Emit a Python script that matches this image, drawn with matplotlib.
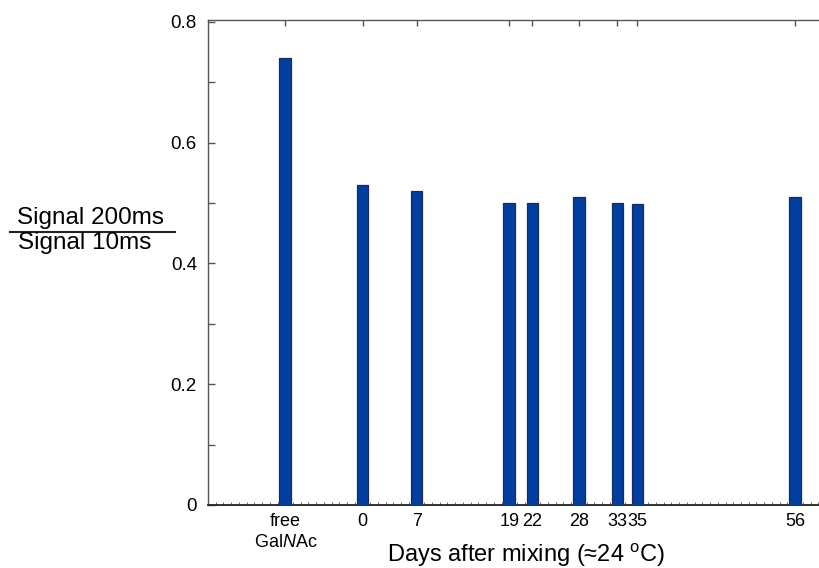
"""Signal ratio bar chart vs. days after mixing"""

import matplotlib

matplotlib.use("Agg")
import matplotlib.pyplot as plt
from matplotlib.lines import Line2D
from matplotlib.ticker import MultipleLocator

plt.rcParams["font.family"] = ["Liberation Sans", "DejaVu Sans"]
plt.rcParams["mathtext.fontset"] = "custom"
plt.rcParams["mathtext.rm"] = "Liberation Sans"
plt.rcParams["mathtext.it"] = "Liberation Sans:italic"

# data (x positions, in days; "free" sits at -10)
positions = [-10, 0, 7, 19, 22, 28, 33, 35.6, 56]
tick_labels = ["free\nGal$\\it{N}$Ac", "0", "7", "19", "22", "28", "33", "35", "56"]
ratios = [0.74, 0.53, 0.52, 0.50, 0.50, 0.51, 0.50, 0.498, 0.51]

bar_color = "#003f9f"
edge_color = "#1c2b55"

fig = plt.figure(figsize=(8.19, 5.68), dpi=100)
ax = fig.add_axes([0.254, 0.111, 0.746, 0.854])

ax.bar(positions, ratios, width=1.5, color=bar_color, edgecolor=edge_color,
       linewidth=0.9, zorder=3)

ax.set_xlim(-20, 59.1)
ax.set_ylim(0, 0.8033)

# spines
ax.spines["right"].set_visible(False)
for side in ("left", "top"):
    ax.spines[side].set_color("#555555")
    ax.spines[side].set_linewidth(1.0)
ax.spines["bottom"].set_color("#222222")
ax.spines["bottom"].set_linewidth(1.3)

# y ticks
ax.yaxis.set_minor_locator(MultipleLocator(0.1))
ax.set_yticks([0, 0.2, 0.4, 0.6, 0.8])
ax.set_yticklabels(["0", "0.2", "0.4", "0.6", "0.8"])
ax.tick_params(axis="y", which="both", direction="in", length=5, width=1,
               color="#555555", labelsize=13.5, pad=8, right=False)

# x ticks
ax.set_xticks(positions)
ax.set_xticklabels(tick_labels, linespacing=1.25)
ax.xaxis.set_minor_locator(MultipleLocator(1))
ax.tick_params(axis="x", which="major", direction="in", length=4, width=1,
               color="#555555", labelsize=13, pad=6, top=True, bottom=False)
ax.tick_params(axis="x", which="minor", direction="in", length=2, width=0.6,
               color="#555555", top=False, bottom=True)

ax.set_xlabel("Days after mixing (≈24 $^{\\rm o}$C)", fontsize=17, labelpad=2)
ax.xaxis.set_label_coords(0.52, -0.075)

# fraction-style y label
fig.text(0.111, 0.616, "Signal 200ms", fontsize=17.5, ha="center", va="center")
fig.text(0.104, 0.573, "Signal 10ms", fontsize=17.5, ha="center", va="center")
fig.add_artist(Line2D([0.012, 0.214], [0.592, 0.592], color="#222222",
                      linewidth=1.5, transform=fig.transFigure))

fig.savefig("out.png", dpi=100, facecolor="white")
